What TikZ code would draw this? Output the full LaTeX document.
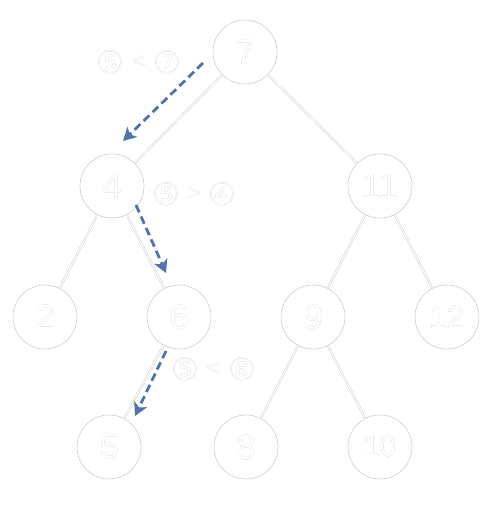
\documentclass[tikz,border=0pt]{standalone}
\usepackage{fontspec}
\setmainfont{Liberation Sans}
\newfontfamily\circfont{DejaVu Sans}
\usepackage[outline]{contour}
\contourlength{0.4pt}
\usetikzlibrary{arrows.meta}
\definecolor{lightline}{RGB}{205,205,205}
\definecolor{txtgray}{RGB}{175,175,175}
\definecolor{arrowblue}{RGB}{80,115,172}
\newcommand\hollowtext[1]{\contour{txtgray}{\textcolor{white}{#1}}}
\tikzset{
  treenode/.style={circle, draw=lightline, line width=0.6pt, minimum size=64pt, inner sep=0pt,
    font=\fontsize{35}{35}\selectfont},
  treeedge/.style={draw=lightline, line width=0.5pt, double=white, double distance=1.1pt},
  cmplabel/.style={inner sep=0pt, font=\circfont\fontsize{31}{31}\selectfont},
  searcharrow/.style={draw=arrowblue, line width=2.8pt, dash pattern=on 8pt off 4.5pt,
    -{Stealth[length=13pt,width=14pt,inset=3.5pt]}}
}
\begin{document}
\begin{tikzpicture}[x=1pt,y=-1pt]
\useasboundingbox (0,0) rectangle (485,515);
\node[treenode] (n7)  at (245,52)  {\hollowtext{7}};
\node[treenode] (n4)  at (112,186) {\hollowtext{4}};
\node[treenode] (n11) at (380,186) {\hollowtext{11}};
\node[treenode] (n2)  at (45,317)  {\hollowtext{2}};
\node[treenode] (n6)  at (179,317) {\hollowtext{6}};
\node[treenode] (n9)  at (313,317) {\hollowtext{9}};
\node[treenode,font=\fontsize{32}{32}\selectfont] (n12) at (447,317) {\hollowtext{12}};
\node[treenode] (n5)  at (109,447) {\hollowtext{5}};
\node[treenode] (n8)  at (246,447) {\hollowtext{8}};
\node[treenode,font=\fontsize{29}{29}\selectfont] (n10) at (380,447) {\hollowtext{10}};
\foreach \a/\b in {n7/n4,n7/n11,n4/n2,n4/n6,n11/n9,n11/n12,n6/n5,n9/n8,n9/n10}
  \draw[treeedge] (\a) -- (\b);
\node[cmplabel] (c1a) at (110,62)  {\hollowtext{⑤}};
\node[cmplabel,font=\fontsize{22}{22}\selectfont] (c1b) at (139,62)  {\hollowtext{<}};
\node[cmplabel] (c1c) at (167,62)  {\hollowtext{⑦}};
\node[cmplabel] (c2a) at (166,194) {\hollowtext{⑤}};
\node[cmplabel,font=\fontsize{22}{22}\selectfont] (c2b) at (194,194) {\hollowtext{>}};
\node[cmplabel] (c2c) at (222,194) {\hollowtext{④}};
\node[cmplabel] (c3a) at (185,369) {\hollowtext{⑤}};
\node[cmplabel,font=\fontsize{22}{22}\selectfont] (c3b) at (213,369) {\hollowtext{<}};
\node[cmplabel] (c3c) at (242,369) {\hollowtext{⑥}};
\coordinate (a1s) at (203,63);  \coordinate (a1e) at (123,141);
\coordinate (a2s) at (136,205); \coordinate (a2e) at (166,273);
\coordinate (a3s) at (166,351); \coordinate (a3e) at (135,416);
\draw[searcharrow] (a1s) -- (a1e);
\draw[searcharrow] (a2s) -- (a2e);
\draw[searcharrow] (a3s) -- (a3e);
\end{tikzpicture}
\end{document}
